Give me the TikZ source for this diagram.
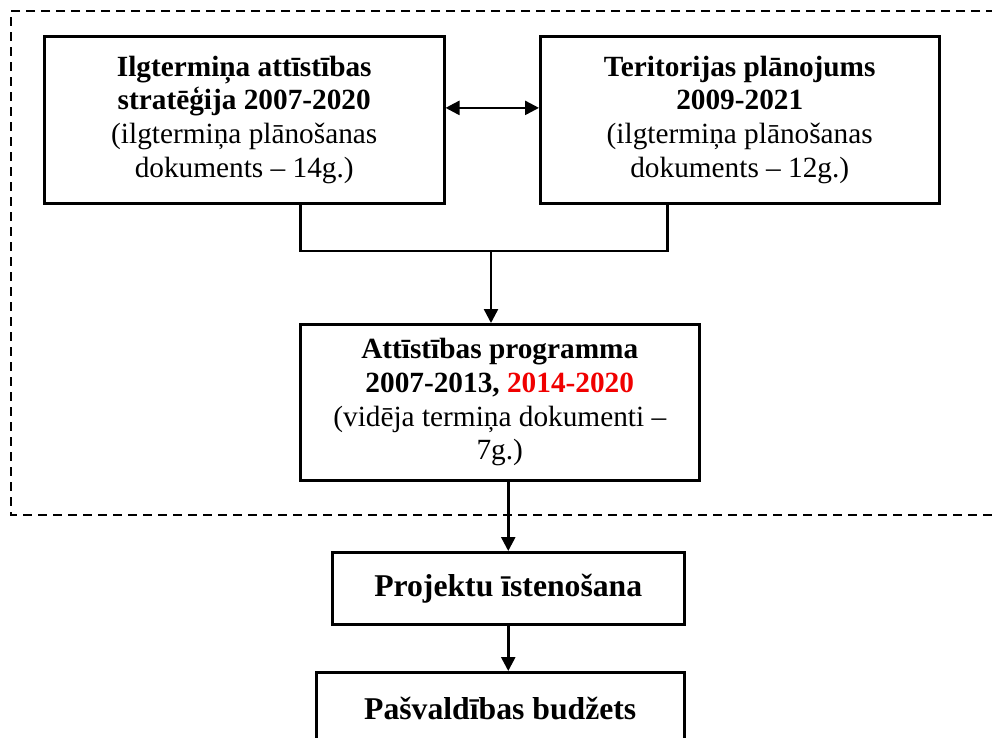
\documentclass[tikz,border=0pt]{standalone}
\usepackage{fontspec}
\setmainfont{Liberation Serif}
\usetikzlibrary{arrows.meta,calc}
\definecolor{hlred}{RGB}{240,0,0}
\tikzset{
  box/.style={draw, line width=2.5pt, inner sep=0pt, anchor=north west, align=center,
    font=\fontsize{29.3}{33.7}\selectfont},
  bigbox/.style={box, font=\fontsize{31.7}{36}\selectfont\bfseries},
  conn/.style={line width=2.5pt},
  arr/.style={conn, -{Triangle[length=14pt,width=14pt]}},
  frame/.style={draw, line width=1.7pt, dash pattern=on 9pt off 6pt}
}
\begin{document}
\begin{tikzpicture}[x=1pt,y=-1pt]
\useasboundingbox (0,0) rectangle (992,737);
\draw[frame] (1010,11) -- (11,11) -- (11,515) -- (1010,515);
\node[box, minimum width=400pt, minimum height=167pt] (b1) at (43,35)
  {\textbf{Ilgtermiņa attīstības}\\\textbf{stratēģija 2007-2020}\\(ilgtermiņa plānošanas\\dokuments – 14g.)};
\node[box, minimum width=399pt, minimum height=167pt] (b2) at (539,35)
  {\textbf{Teritorijas plānojums}\\\textbf{2009-2021}\\(ilgtermiņa plānošanas\\dokuments – 12g.)};
\node[box, minimum width=399pt, minimum height=156pt] (b3) at (299,323)
  {\textbf{Attīstības programma}\\\textbf{2007-2013, \textcolor{hlred}{2014-2020}}\\(vidēja termiņa dokumenti –\\7g.)};
\node[bigbox, minimum width=352pt, minimum height=72pt] (b4) at (331,551) {Projektu īstenošana};
\node[bigbox, minimum width=368pt, minimum height=72pt] (b5) at (315,671) {Pašvaldības budžets};
\coordinate (j) at (491,251);
\draw[conn, {Triangle[length=14pt,width=14pt]}-{Triangle[length=14pt,width=14pt]}]
  ($(b1.north east)!0.43!(b1.south east)$) -- ($(b2.north west)!0.43!(b2.south west)$);
\draw[conn] ($(b1.south west)!0.64!(b1.south east)$) |- (j);
\draw[conn] ($(b2.south west)!0.32!(b2.south east)$) |- (j);
\draw[arr] (j) -- (j |- b3.north);
\draw[arr] (b3.south -| b4.north) -- (b4.north);
\draw[arr] (b4.south) -- (b4.south |- b5.north);
\end{tikzpicture}
\end{document}
